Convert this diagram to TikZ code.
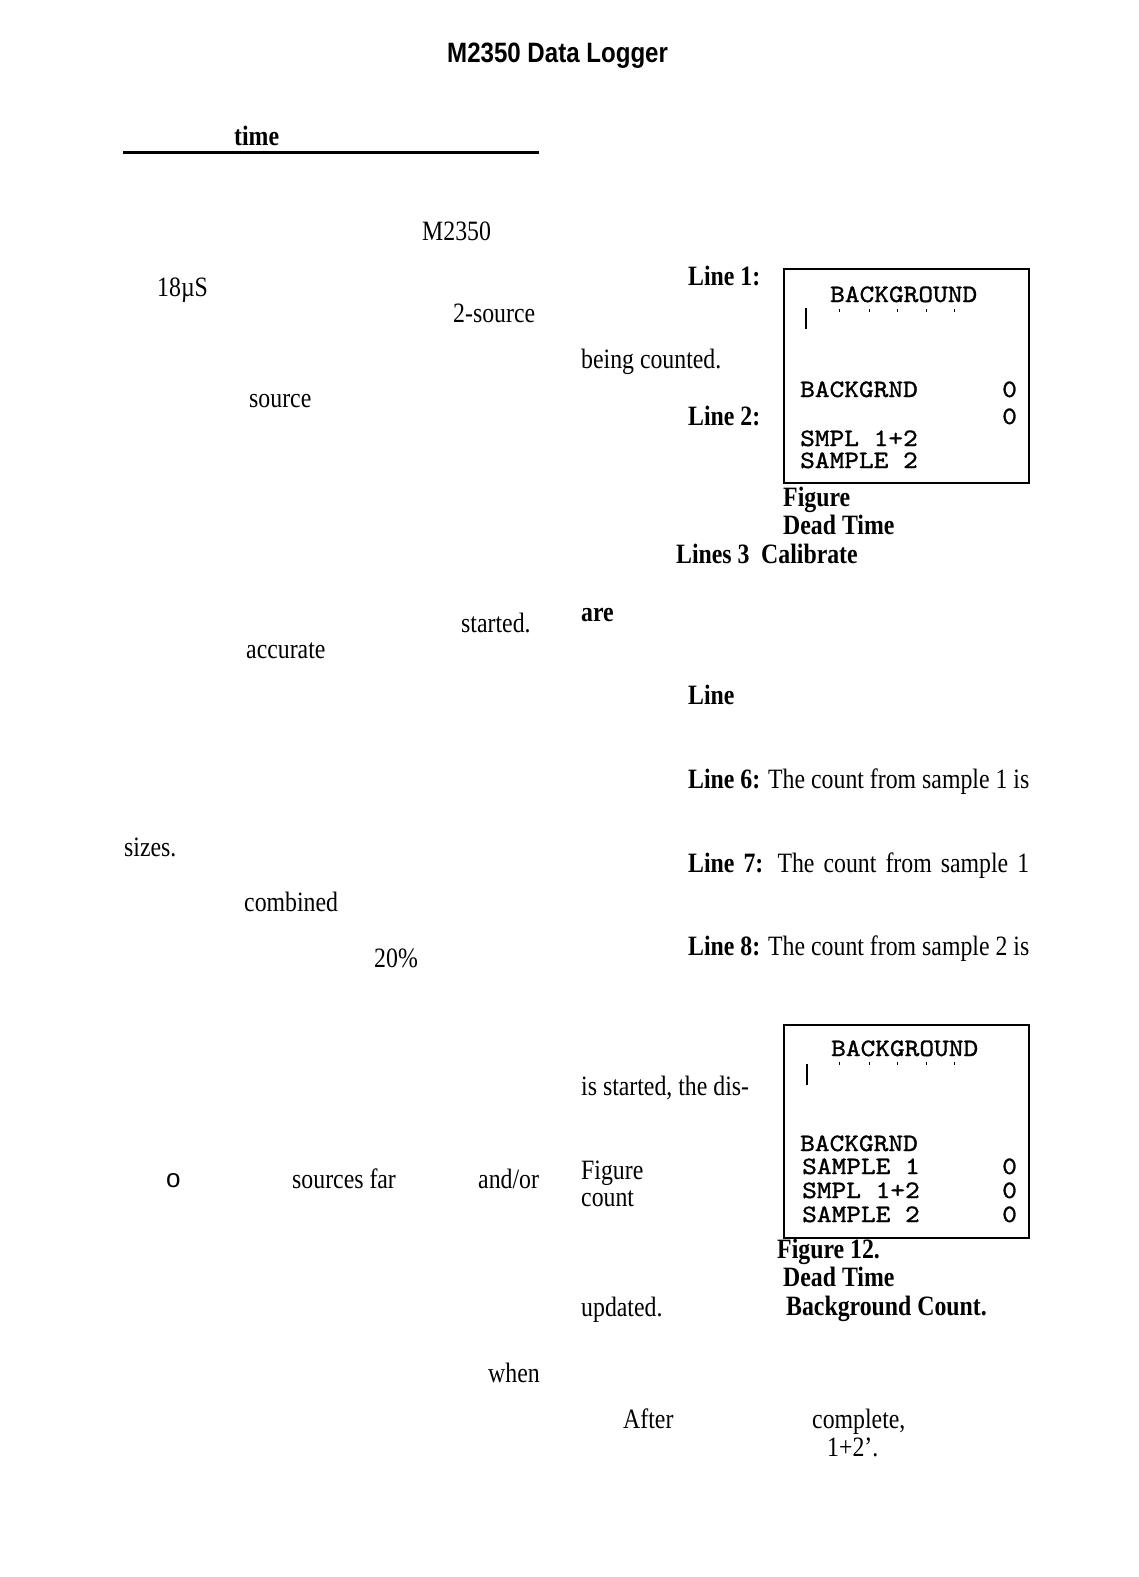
\documentclass[tikz,border=0pt]{standalone}
\usepackage{fontspec}
\setmainfont{Liberation Serif}[FakeStretch=0.85]
\setsansfont{Liberation Sans}
\setmonofont{lmmono10-regular.otf}[FakeStretch=1.12, FakeBold=1.2]
\newfontfamily\headfont{Liberation Sans}[FakeStretch=0.86]
\tikzset{
txt/.style={anchor=base west, inner sep=0pt, font=\fontsize{28}{30}\selectfont}, % plain body text
lbl/.style={txt, font=\fontsize{28}{30}\selectfont\bfseries}, % bold words
lcd/.style={anchor=base west, inner sep=0pt, font=\fontsize{25}{27}\selectfont\ttfamily}, % display text
screen/.style={line width=1.6pt}, % display frame
}

\begin{document}
\begin{tikzpicture}[x=1pt,y=-1pt]
    \fill[white] (0,0) rectangle (1139,1577);
    \useasboundingbox (0,0) rectangle (1139,1577);

    % page heading
    \node[anchor=base west, inner sep=0pt, font=\fontsize{28}{30}\headfont\bfseries] (head) at (447,62) {M2350 Data Logger};
    \node[lbl] (time) at (234,145) {time};
    \draw[line width=3pt] (123,152) -- (539,152);

    % left column
    \node[txt] (m2350) at (422,240) {M2350};
    \node[txt] (mus) at (157,296) {18µS};
    \node[txt] (twosrc) at (453,322) {2-source};
    \node[txt] (src) at (249,407) {source};
    \node[txt] (started) at (461,632) {started.};
    \node[txt] (accurate) at (246,658) {accurate};
    \node[txt] (sizes) at (124,856) {sizes.};
    \node[txt] (combined) at (244,911) {combined};
    \node[txt] (pct) at (374,967) {20\%};
    \node[anchor=base west, inner sep=0pt, font=\fontsize{26}{30}\sffamily] (bullet) at (166,1187) {o};
    \node[txt] (far) at (292,1188) {sources far};
    \node[txt] (andor) at (478,1188) {and/or};
    \node[txt] (when) at (488,1382) {when};

    % right column
    \node[lbl] (line1) at (688,285) {Line 1:};
    \node[txt] (counted) at (581,368) {being counted.};
    \node[lbl] (line2) at (688,425) {Line 2:};
    \node[lbl] (figA) at (783,506) {Figure};
    \node[lbl] (deadA) at (783,534) {Dead Time};
    \node[lbl] (lines3) at (676,563) {Lines 3};
    \node[lbl] (calib) at (761,563) {Calibrate};
    \node[lbl] (are) at (581,621) {are};
    \node[lbl] (line) at (688,704) {Line};
    \node[txt] (line6) at (688,788) {\textbf{Line 6:} The count from sample 1 is};
    \node[txt] (line7) at (688,872) {\makebox[341pt][s]{\textbf{Line 7:} The count from sample 1}};
    \node[txt] (line8) at (688,955) {\textbf{Line 8:} The count from sample 2 is};
    \node[txt] (dis) at (581,1095) {is started, the dis-};
    \node[txt] (figB) at (581,1179) {Figure};
    \node[txt] (count) at (581,1206) {count};
    \node[txt] (updated) at (581,1316) {updated.};
    \node[txt] (after) at (623,1428) {After};
    \node[txt] (complete) at (812,1428) {complete,};
    \node[txt] (onetwo) at (827,1456) {1+2'.};

    % first display
    \draw[screen] (784,269) rectangle (1029,483);
    \node[lcd] (bgA) at (830,302) {BACKGROUND};
    \draw[line width=1.2pt] (806,308) -- (806,329);
    \foreach \x in {839,869,897,926,954}
        \draw[line width=1pt] (\x,309) -- (\x,312);
    \node[lcd] (bgrndA) at (800,397) {BACKGRND};
    \node[lcd] (zeroA) at (1002,397) {0};
    \node[lcd] (zeroB) at (1002,424) {0};
    \node[lcd] (smplA) at (800,446) {SMPL 1+2};
    \node[lcd] (samp2A) at (800,468) {SAMPLE 2};

    % second display
    \draw[screen] (784,1025) rectangle (1029,1238);
    \node[lcd] (bgB) at (831,1056) {BACKGROUND};
    \draw[line width=1.2pt] (807,1064) -- (807,1085);
    \foreach \x in {839,869,897,926,954}
        \draw[line width=1pt] (\x,1062) -- (\x,1065);
    \node[lcd] (bgrndB) at (800,1151) {BACKGRND};
    \node[lcd] (samp1B) at (802,1174) {SAMPLE 1};
    \node[lcd] (smplB) at (802,1198) {SMPL 1+2};
    \node[lcd] (samp2B) at (802,1222) {SAMPLE 2};
    \node[lcd] (zeroC) at (1002,1174) {0};
    \node[lcd] (zeroD) at (1002,1198) {0};
    \node[lcd] (zeroE) at (1002,1222) {0};
    \node[lbl] (figC) at (777,1258) {Figure 12.};
    \node[lbl] (deadB) at (783,1286) {Dead Time};
    \node[lbl] (bgcount) at (786,1315) {Background Count.};
\end{tikzpicture}
\end{document}
